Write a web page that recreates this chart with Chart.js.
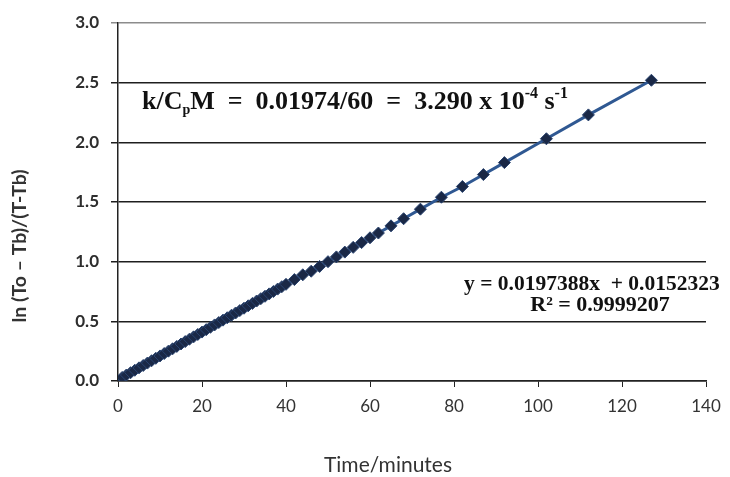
<!DOCTYPE html>
<html>
<head>
<meta charset="utf-8">
<script src="https://cdn.jsdelivr.net/npm/chart.js@4.4.1/dist/chart.umd.min.js"></script>
<style>
  html, body { margin: 0; padding: 0; background: #fff; }
  #wrap { width: 730px; height: 477px; }
</style>
</head>
<body>
<div id="wrap"><canvas id="chart" width="730" height="477"></canvas></div>
<script>
// time (minutes) and ln((To - Tb)/(T - Tb))
const timeMin = [
  0, 1, 2, 3, 4, 5, 6, 7, 8, 9, 10, 11, 12, 13, 14, 15, 16, 17, 18, 19, 20,
  21, 22, 23, 24, 25, 26, 27, 28, 29, 30, 31, 32, 33, 34, 35, 36, 37, 38, 39, 40,
  42, 44, 46, 48, 50, 52, 54, 56, 58, 60, 62, 65, 68, 72, 77, 82, 87, 92, 102, 112, 127
];
const lnRatio = [
  0.00, 0.03, 0.05, 0.07, 0.09, 0.11, 0.13, 0.15, 0.17, 0.19, 0.21,
  0.23, 0.25, 0.27, 0.29, 0.31, 0.33, 0.35, 0.37, 0.39, 0.41,
  0.43, 0.45, 0.47, 0.49, 0.51, 0.53, 0.55, 0.57, 0.59, 0.61,
  0.63, 0.65, 0.67, 0.69, 0.71, 0.73, 0.75, 0.77, 0.79, 0.81,
  0.85, 0.89, 0.92, 0.96, 1.00, 1.04, 1.08, 1.12, 1.16, 1.20, 1.24,
  1.30, 1.36, 1.44, 1.54, 1.63, 1.73, 1.83, 2.03, 2.23, 2.52
];
const xTicks = [0, 20, 40, 60, 80, 100, 120, 140];
const yTicks = [0, 0.5, 1.0, 1.5, 2.0, 2.5, 3.0];

const rateText = [
  { t: 'k/C', size: 26, dy: 0 },
  { t: 'p', size: 14, dy: 5 },
  { t: 'M  =  0.01974/60  =  3.290 x 10', size: 26, dy: 0 },
  { t: '-4', size: 16, dy: -11 },
  { t: ' s', size: 26, dy: 0 },
  { t: '-1', size: 16, dy: -11 }
];
const fitLine1 = 'y = 0.0197388x  + 0.0152323';
const fitLine2 = 'R\u00B2 = 0.9999207';
const xTitle = 'Time/minutes';
const yTitle = 'ln (To \u2013 Tb)/(T-Tb)';

const points = timeMin.map((t, i) => ({ x: t, y: lnRatio[i] }));

const serif = "'Liberation Serif', 'DejaVu Serif', serif";
const sans = "Lato, 'Open Sans', sans-serif";

const drawRich = (ctx, x, y, parts) => {
  let cx = x;
  parts.forEach(p => {
    ctx.font = 'bold ' + p.size + 'px ' + serif;
    ctx.fillText(p.t, cx, y + p.dy);
    cx += ctx.measureText(p.t).width;
  });
};

const textPlugin = {
  id: 'texts',
  afterDraw(chart) {
    const ctx = chart.ctx;
    ctx.save();
    ctx.fillStyle = '#111';
    ctx.textBaseline = 'alphabetic';
    ctx.textAlign = 'left';
    drawRich(ctx, 142, 109, rateText);

    ctx.font = 'bold 21.5px ' + serif;
    ctx.fillText(fitLine1, 464, 290);
    ctx.textAlign = 'center';
    ctx.font = 'bold 22px ' + serif;
    ctx.fillText(fitLine2, 600, 311);

    // axis titles
    ctx.fillStyle = '#333';
    ctx.font = '21px ' + sans;
    ctx.textBaseline = 'middle';
    ctx.fillText(xTitle, 388, 465);

    ctx.translate(20, 246);
    ctx.rotate(-Math.PI / 2);
    ctx.font = 'bold 19.5px ' + sans;
    ctx.fillText(yTitle, 0, 0);
    ctx.restore();
  }
};

new Chart(document.getElementById('chart'), {
  type: 'scatter',
  data: {
    datasets: [{
      data: points,
      showLine: true,
      borderColor: '#2f5892',
      borderWidth: 3,
      pointStyle: 'rectRot',
      pointRadius: 6,
      pointBackgroundColor: '#1a2846',
      pointBorderColor: '#2a4470',
      pointBorderWidth: 1
    }]
  },
  options: {
    responsive: false,
    animation: false,
    layout: { padding: { left: 0, top: 23, right: 24, bottom: 0 } },
    plugins: { legend: { display: false }, tooltip: { enabled: false } },
    scales: {
      x: {
        type: 'linear',
        min: 0,
        max: 140,
        afterBuildTicks: scale => { scale.ticks = xTicks.map(v => ({ value: v })); },
        afterFit: scale => { scale.height = 96; },
        border: { display: true, color: '#222', width: 1.5 },
        grid: { drawOnChartArea: false, drawTicks: true, tickLength: 6, color: '#222' },
        ticks: { color: '#333', font: { family: sans, size: 17 }, padding: 9, maxRotation: 0 }
      },
      y: {
        min: 0,
        max: 3,
        afterBuildTicks: scale => { scale.ticks = yTicks.map(v => ({ value: v })); },
        afterFit: scale => { scale.width = 118; },
        border: { display: true, color: '#222', width: 1.5 },
        grid: {
          drawTicks: true,
          tickLength: 7,
          lineWidth: 1.5,
          color: c => (c.tick && c.tick.value === 3 ? '#8c8c8c' : '#1e1e1e')
        },
        ticks: {
          color: '#2e2e2e',
          font: { family: sans, size: 17, weight: 'bold' },
          padding: 12,
          callback: v => Number(v).toFixed(1)
        }
      }
    }
  },
  plugins: [textPlugin]
});
</script>
</body>
</html>
